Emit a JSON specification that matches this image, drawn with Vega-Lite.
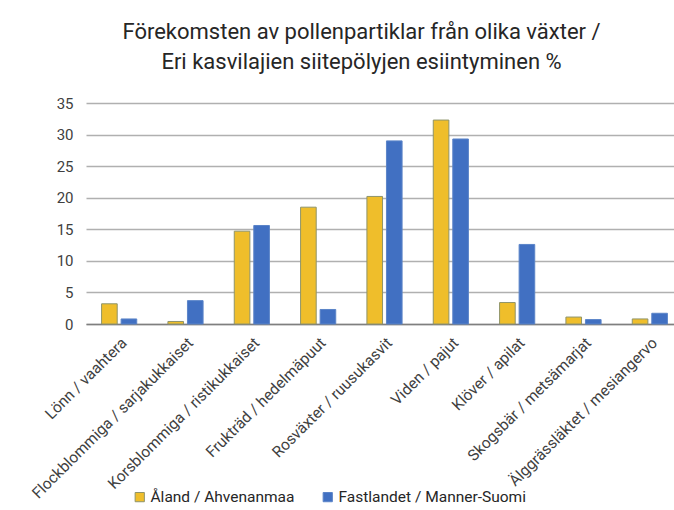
{
  "$schema": "https://vega.github.io/schema/vega-lite/v6.json",
  "autosize": {"type": "none"},
  "width": 597,
  "height": 221,
  "padding": {"left": 86, "top": 103, "right": 0, "bottom": 186},
  "background": "white",
  "title": {
    "text": ["Förekomsten av pollenpartiklar från olika växter /", "Eri kasvilajien siitepölyjen esiintyminen %"],
    "anchor": "middle",
    "dx": -23,
    "offset": 22,
    "font": "Roboto",
    "fontSize": 22,
    "fontWeight": "normal",
    "color": "#262626",
    "lineHeight": 30
  },
  "data": {
    "values": [
      {"kategori": "Lönn / vaahtera", "serie": "Åland / Ahvenanmaa", "varde": 3.2},
      {"kategori": "Lönn / vaahtera", "serie": "Fastlandet / Manner-Suomi", "varde": 0.8},
      {"kategori": "Flockblommiga / sarjakukkaiset", "serie": "Åland / Ahvenanmaa", "varde": 0.4},
      {"kategori": "Flockblommiga / sarjakukkaiset", "serie": "Fastlandet / Manner-Suomi", "varde": 3.7},
      {"kategori": "Korsblommiga / ristikukkaiset", "serie": "Åland / Ahvenanmaa", "varde": 14.7},
      {"kategori": "Korsblommiga / ristikukkaiset", "serie": "Fastlandet / Manner-Suomi", "varde": 15.6},
      {"kategori": "Frukträd / hedelmäpuut", "serie": "Åland / Ahvenanmaa", "varde": 18.5},
      {"kategori": "Frukträd / hedelmäpuut", "serie": "Fastlandet / Manner-Suomi", "varde": 2.3},
      {"kategori": "Rosväxter / ruusukasvit", "serie": "Åland / Ahvenanmaa", "varde": 20.2},
      {"kategori": "Rosväxter / ruusukasvit", "serie": "Fastlandet / Manner-Suomi", "varde": 29.0},
      {"kategori": "Viden / pajut", "serie": "Åland / Ahvenanmaa", "varde": 32.3},
      {"kategori": "Viden / pajut", "serie": "Fastlandet / Manner-Suomi", "varde": 29.3},
      {"kategori": "Klöver / apilat", "serie": "Åland / Ahvenanmaa", "varde": 3.4},
      {"kategori": "Klöver / apilat", "serie": "Fastlandet / Manner-Suomi", "varde": 12.6},
      {"kategori": "Skogsbär / metsämarjat", "serie": "Åland / Ahvenanmaa", "varde": 1.1},
      {"kategori": "Skogsbär / metsämarjat", "serie": "Fastlandet / Manner-Suomi", "varde": 0.7},
      {"kategori": "Älggrässläktet / mesiangervo", "serie": "Åland / Ahvenanmaa", "varde": 0.8},
      {"kategori": "Älggrässläktet / mesiangervo", "serie": "Fastlandet / Manner-Suomi", "varde": 1.7}
    ]
  },
  "mark": {"type": "bar", "strokeWidth": 1},
  "encoding": {
    "x": {
      "field": "kategori",
      "type": "nominal",
      "sort": null,
      "scale": {"paddingInner": 0.47, "paddingOuter": 0.235},
      "axis": {
        "title": null,
        "labelAngle": -45,
        "labelAlign": "right",
        "labelBaseline": "top",
        "labelFont": "Roboto",
        "labelFontSize": 15.5,
        "labelColor": "#404040",
        "labelPadding": 11,
        "ticks": false,
        "domain": true,
        "domainColor": "#7f7f7f",
        "domainWidth": 1.5,
        "grid": false,
        "labelLimit": 300
      }
    },
    "xOffset": {
      "field": "serie",
      "type": "nominal",
      "sort": ["Åland / Ahvenanmaa", "Fastlandet / Manner-Suomi"],
      "scale": {"paddingInner": 0.2, "paddingOuter": 0}
    },
    "y": {
      "field": "varde",
      "type": "quantitative",
      "scale": {"domain": [0, 35], "nice": false},
      "axis": {
        "title": null,
        "values": [0, 5, 10, 15, 20, 25, 30, 35],
        "labelFont": "Roboto",
        "labelFontSize": 15,
        "labelColor": "#404040",
        "labelPadding": 13,
        "ticks": false,
        "domain": false,
        "gridColor": "#b0b0b0",
        "gridWidth": 1.5
      }
    },
    "color": {
      "field": "serie",
      "type": "nominal",
      "sort": ["Åland / Ahvenanmaa", "Fastlandet / Manner-Suomi"],
      "scale": {"domain": ["Åland / Ahvenanmaa", "Fastlandet / Manner-Suomi"], "range": ["#EFBE2B", "#4170C2"]},
      "legend": {
        "title": null,
        "orient": "none",
        "direction": "horizontal",
        "legendX": 46,
        "legendY": 386,
        "symbolType": "square",
        "symbolSize": 85,
        "symbolStrokeWidth": 1,
        "labelFont": "Roboto",
        "labelFontSize": 15.5,
        "labelColor": "#262626",
        "labelLimit": 400,
        "columnPadding": 25,
        "labelOffset": 3
      }
    },
    "stroke": {
      "field": "serie",
      "type": "nominal",
      "scale": {"domain": ["Åland / Ahvenanmaa", "Fastlandet / Manner-Suomi"], "range": ["#8F946A", "#5B84C8"]},
      "legend": null
    }
  },
  "config": {"view": {"stroke": null}}
}
